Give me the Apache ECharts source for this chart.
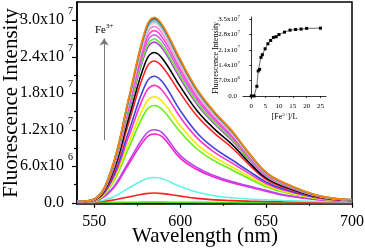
<!DOCTYPE html>
<html><head><meta charset="utf-8">
<script src="https://cdn.jsdelivr.net/npm/echarts@6/dist/echarts.min.js"></script>
<style>html,body{margin:0;padding:0;background:#fff}#c{width:365px;height:250px}</style>
</head><body><div id="c"></div>
<script>
// Wavelength grid (nm)
const wavelengths = [540,550,560,570,580,585,590,600,610,620,630,640,650,660,680,700];
// Emission spectra, intensity in units of 1e6 (bottom curve first)
const spectra = [
  [0.02,0.03,0.05,0.08,0.1,0.1,0.1,0.09,0.07,0.05,0.04,0.03,0.03,0.02,0.02,0.02],
  [0.08,0.13,0.4,0.96,1.5,1.6,1.5,1.09,0.72,0.48,0.35,0.27,0.22,0.16,0.1,0.06],
  [0.08,0.17,0.83,2.41,3.9,4.15,3.9,2.7,1.74,1.16,0.83,0.62,0.5,0.37,0.21,0.12],
  [0.11,0.28,2.03,6.33,10.62,11.3,10.74,7.35,5.42,4.18,3.28,2.6,1.92,1.24,0.51,0.23],
  [0.12,0.3,2.16,6.72,11.28,12,11.4,7.8,5.76,4.44,3.48,2.76,2.04,1.32,0.54,0.24],
  [0.13,0.35,2.88,8.96,15.04,16,15.2,11.68,8.8,6.88,5.44,4.0,2.64,1.76,0.67,0.29],
  [0.14,0.38,3.13,9.74,16.36,17.4,16.53,12.7,9.57,7.48,5.92,4.35,2.87,1.91,0.73,0.31],
  [0.15,0.42,3.47,10.81,18.14,19.3,18.34,14.09,10.62,8.3,6.56,4.83,3.18,2.12,0.81,0.35],
  [0.17,0.46,3.74,11.65,19.55,20.8,19.76,15.18,11.44,8.94,7.07,5.2,3.43,2.29,0.87,0.37],
  [0.16,0.47,4.19,13.05,21.9,23.3,22.25,18.06,14.21,11.42,9.09,6.29,3.84,2.56,0.93,0.37],
  [0.17,0.49,4.45,13.83,23.22,24.7,23.59,19.14,15.07,12.1,9.63,6.67,4.08,2.72,0.99,0.4],
  [0.18,0.53,4.75,14.78,24.82,26.4,25.21,20.46,16.1,12.94,10.3,7.13,4.36,2.9,1.06,0.42],
  [0.19,0.54,4.84,15.06,25.29,26.9,25.69,20.85,16.41,13.18,10.49,7.26,4.44,2.96,1.08,0.43],
  [0.19,0.55,4.97,15.46,25.94,27.6,26.36,21.39,16.84,13.52,10.76,7.45,4.55,3.04,1.1,0.44],
  [0.2,0.57,5.09,15.85,26.6,28.3,27.03,21.93,17.26,13.87,11.04,7.64,4.67,3.11,1.13,0.45],
  [0.2,0.58,5.22,16.24,27.26,29,27.7,22.48,17.69,14.21,11.31,7.83,4.79,3.19,1.16,0.46],
  [0.21,0.59,5.31,16.52,27.73,29.5,28.17,22.86,18.0,14.46,11.51,7.97,4.87,3.25,1.18,0.47],
  [0.21,0.6,5.36,16.69,28.01,29.8,28.46,23.1,18.18,14.6,11.62,8.05,4.92,3.28,1.19,0.48],
  [0.21,0.6,5.42,16.86,28.29,30.1,28.75,23.33,18.36,14.75,11.74,8.13,4.97,3.31,1.2,0.48],
  [0.21,0.61,5.45,16.97,28.48,30.3,28.94,23.48,18.48,14.85,11.82,8.18,5.0,3.33,1.21,0.48],
  [0.21,0.61,5.49,17.08,28.67,30.5,29.13,23.64,18.61,14.95,11.9,8.24,5.03,3.36,1.22,0.49]
];
const curveColors = ['#44dd22','#ff2020','#5ff5e6','#ff22cc','#bb44ee','#66ee11','#eeee00','#ff33cc','#4444dd','#ff2222','#000000','#aa44dd','#66ee22','#cc66ee','#ff44cc','#ff88dd','#cfe8cf','#aaaaaa','#66aacc','#226688','#ff8800'];
// Inset titration: [Fe3+] (equiv) vs intensity (1e6)
const insetX = [0,1,2,2.5,3,3.5,4,5,6,7,8,9,10,12,14,16,18,20,25];
const insetY = [0,0,4.4,11.4,12.1,17.6,18.8,21.5,23.8,25.3,26.7,27.0,28.0,29.1,30.0,30.3,30.5,30.8,30.9];
// Tick labels
const xTicks = [550,600,650,700];
const xMinorTicks = [575,625,675];
const yTicks = [0,6,12,18,24,30];
const yMinorTicks = [3,9,15,21,27];
const yTickMantissa = ['0.0','6.0x10','1.2x10','1.8x10','2.4x10','3.0x10'];
const yTickExp = ['','6','7','7','7','7'];
const insetXTicks = [0,5,10,15,20,25];
const insetYTicks = [0,7,14,21,28,35];
const insetYMantissa = ['0.0','7.0x10','1.4x10','2.1x10','2.8x10','3.5x10'];
const insetYExp = ['','6','7','7','7','7'];

const FONT = 'Liberation Serif';
const chart = echarts.init(document.getElementById('c'), null, {renderer:'canvas'});

function supFmt(ticks, mant, exp){
  return function(v){
    const i = ticks.indexOf(Math.round(v*1000)/1000);
    if (i < 0) return '';
    return exp[i] ? '{b|'+mant[i]+'}{s|'+exp[i]+'}' : '{b|'+mant[i]+'}{p|}';
  };
}

const series = spectra.map((d,i)=>({
  type:'line', xAxisIndex:0, yAxisIndex:0, smooth:0.4, symbol:'none',
  data: wavelengths.map((w,j)=>[w,d[j]]),
  lineStyle:{color:curveColors[i], width:1.6}, itemStyle:{color:curveColors[i]},
  z: 2, silent:true
}));
series[0].markLine = {
  silent:true, symbol:['none','arrow'], symbolSize:7,
  lineStyle:{color:'#777', width:1, type:'solid'},
  itemStyle:{color:'#555'},
  label:{show:true, position:'end', distance:1,
    formatter:'{a|Fe}{s|3+}',
    rich:{a:{fontFamily:FONT,fontSize:11,color:'#000'}, s:{fontFamily:FONT,fontSize:7,color:'#000',padding:[0,0,8,0]}}},
  data:[[{coord:[555.8,10.3]},{coord:[555.8,27.0]}]]
};
series.push({
  type:'line', xAxisIndex:2, yAxisIndex:2, symbol:'rect', symbolSize:3,
  data: insetX.map((x,i)=>[x,insetY[i]]),
  lineStyle:{color:'#444', width:0.8}, itemStyle:{color:'#000'}, z:5, silent:true
});

const option = {
  animation:false,
  backgroundColor:'#fff',
  grid:[
    {left:77, right:13, top:2, bottom:46, show:true, borderColor:'#000', borderWidth:1.5, outerBoundsMode:'none', containLabel:false},
    {left:243, right:39, top:17, bottom:151, outerBoundsMode:'none', containLabel:false}
  ],
  xAxis:[
    {type:'value', gridIndex:0, min:540, max:700,
     axisLine:{lineStyle:{color:'#000',width:1.5}},
     axisTick:{customValues:xTicks, length:5, lineStyle:{color:'#000',width:1.2}},
     axisLabel:{customValues:xTicks, margin:10, fontFamily:FONT, fontSize:16, color:'#000'},
     splitLine:{show:false},
     name:'Wavelength (nm)', nameLocation:'middle', nameGap:22, nameMoveOverlap:false,
     nameTextStyle:{fontFamily:FONT, fontSize:21, color:'#000', padding:[0,19,0,0]}},
    {type:'value', gridIndex:0, min:540, max:700, position:'bottom',
     axisLine:{show:false},
     axisTick:{customValues:xMinorTicks, length:3, lineStyle:{color:'#000',width:1.2}},
     axisLabel:{show:false}, splitLine:{show:false}},
    {type:'value', gridIndex:1, min:-3, max:27,
     axisLine:{lineStyle:{color:'#000',width:0.8}},
     axisTick:{customValues:insetXTicks, length:2, lineStyle:{color:'#000',width:0.8}},
     axisLabel:{customValues:insetXTicks, margin:4, fontFamily:FONT, fontSize:7, color:'#000'},
     splitLine:{show:false},
     name:'[Fe{s|3+}]/L', nameLocation:'middle', nameGap:13, nameMoveOverlap:false,
     nameTextStyle:{fontFamily:FONT, fontSize:8, color:'#000',
       rich:{s:{fontFamily:FONT,fontSize:5,color:'#000',padding:[0,0,5,0]}}}}
  ],
  yAxis:[
    {type:'value', gridIndex:0, min:-0.2, max:33,
     axisLine:{lineStyle:{color:'#000',width:1.5}},
     axisTick:{customValues:yTicks, length:5, lineStyle:{color:'#000',width:1.2}},
     axisLabel:{customValues:yTicks, margin:4, formatter:supFmt(yTicks,yTickMantissa,yTickExp),
       rich:{b:{fontFamily:FONT,fontSize:16,color:'#000'},
             s:{fontFamily:FONT,fontSize:10,color:'#000',padding:[0,0,17,4]},
             p:{width:9}}},
     splitLine:{show:false},
     name:'Fluorescence Intensity', nameLocation:'middle', nameGap:55, nameMoveOverlap:false,
     nameTextStyle:{fontFamily:FONT, fontSize:21, color:'#000'}},
    {type:'value', gridIndex:0, min:-0.2, max:33, position:'left',
     axisLine:{show:false},
     axisTick:{customValues:yMinorTicks, length:3, lineStyle:{color:'#000',width:1.2}},
     axisLabel:{show:false}, splitLine:{show:false}},
    {type:'value', gridIndex:1, min:-1.4, max:36,
     axisLine:{lineStyle:{color:'#000',width:0.8}},
     axisTick:{customValues:insetYTicks, length:2, lineStyle:{color:'#000',width:0.8}},
     axisLabel:{customValues:insetYTicks, margin:3, formatter:supFmt(insetYTicks,insetYMantissa,insetYExp),
       rich:{b:{fontFamily:FONT,fontSize:7,color:'#000'},
             s:{fontFamily:FONT,fontSize:5,color:'#000',padding:[0,0,6,0]},
             p:{width:3}}},
     splitLine:{show:false},
     name:'Fluorescence Intensity', nameLocation:'middle', nameGap:23, nameMoveOverlap:false,
     nameTextStyle:{fontFamily:FONT, fontSize:8, color:'#000'}}
  ],
  series: series
};
chart.setOption(option);
</script>
</body></html>
